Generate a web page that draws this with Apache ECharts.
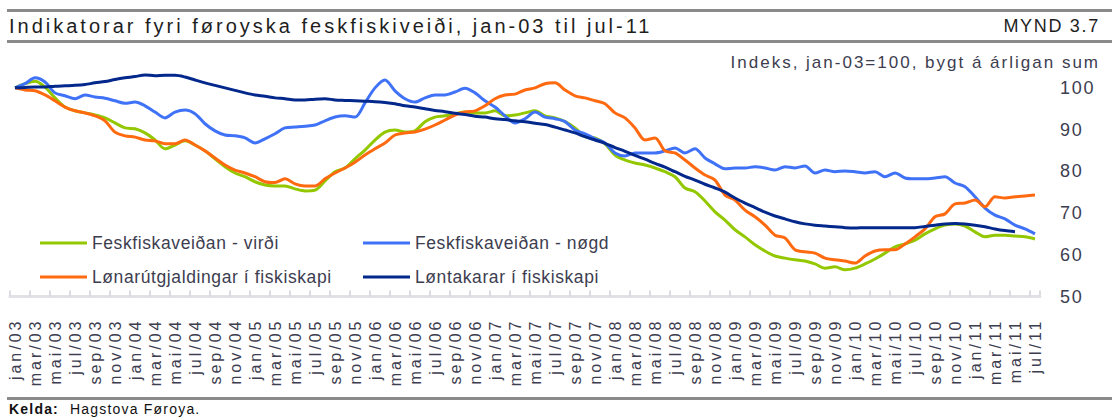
<!DOCTYPE html>
<html>
<head>
<meta charset="utf-8">
<title>Indikatorar fyri føroyska feskfiskiveiði</title>
<script src="https://cdn.jsdelivr.net/npm/echarts@6/dist/echarts.min.js"></script>
<style>
  html, body { margin: 0; padding: 0; background: #fff; }
  #chart { width: 1112px; height: 417px; }
  /* wide Excel-style tracking, picked by the font size echarts writes on each svg text */
  #chart text[style*="20px"] { letter-spacing: 3px; }
  #chart text[style*="18px"] { letter-spacing: 1.7px; }
  #chart text[style*="17px"] { letter-spacing: 2px; }
  #chart text[style*="16px"] { letter-spacing: 3px; }
  #chart text[style*="17.5px"] { letter-spacing: 0.6px; }
  #chart text[style*="14px"] { letter-spacing: 1.2px; }
</style>
</head>
<body>
<div id="chart"></div>
<script>
// month labels, jan/03 .. jul/11
const monthNames = ["jan", "feb", "mar", "apr", "mai", "jun", "jul", "aug", "sep", "okt", "nov", "des"];
const years = ["03", "04", "05", "06", "07", "08", "09", "10", "11"];
const months = [];
years.forEach(function(y, yi) {
  monthNames.forEach(function(m, mi) {
    if (yi == years.length - 1 && mi > 6) return;
    months.push(m + "/" + y);
  });
});

const yTicks = [50, 60, 70, 80, 90, 100];

// Feskfiskaveiðan - virði
const virdi = [
  100, 101, 101.6, 100.2, 97.6, 95.4, 94.5, 94, 93.5, 92.8,
  91.6, 90.4, 90.2, 89.2, 87.5, 85.4, 86.3, 87.3, 86.3, 84.9,
  83, 81.1, 79.6, 78.7, 77.5, 76.7, 76.5, 76.5, 75.8, 75.3,
  75.5, 77.7, 79.9, 80.8, 83, 85.1, 87.5, 89.4, 89.9, 89.4,
  89.7, 91.9, 93, 93.3, 93.8, 94.2, 94, 94, 94.5, 93.3,
  93.5, 94, 94.5, 93.3, 92.8, 91.9, 90.4, 88.3, 88, 86.6,
  83.9, 82.7, 82, 81.5, 80.8, 79.9, 78.7, 76, 75.1, 72.9,
  70.3, 68.3, 66, 64.3, 62.4, 60.9, 59.7, 59.2, 58.8, 58.5,
  57.8, 56.8, 57.1, 56.4, 56.8, 57.8, 59, 60.4, 61.9, 62.6,
  63.5, 65, 66.2, 67.1, 67.4, 66.9, 65.5, 64.3, 64.7, 64.7,
  64.5, 64.3, 63.8
];

// Feskfiskaveiðan - nøgd
const nogd = [
  100, 101, 102.4, 101.4, 98.8, 98.1, 97.4, 98.3, 97.8, 97.5,
  96.9, 96.3, 96.6, 95.7, 94.2, 92.8, 94.2, 94.7, 93.8, 91.4,
  89.7, 88.7, 88.5, 88, 86.8, 87.8, 89, 90.4, 90.6, 90.8,
  91.1, 92.1, 93, 93.3, 93, 96.4, 100, 101.9, 99.3, 97.4,
  96.6, 97.6, 98.3, 98.3, 99, 99.9, 98.8, 96.9, 95.4, 93.3,
  91.6, 92.6, 94.2, 93, 92.6, 91.9, 89.9, 89, 87.8, 86.8,
  84.4, 83.7, 84.4, 84.4, 84.4, 84.9, 85.6, 84.4, 85.4, 83.2,
  81.8, 80.6, 80.8, 80.8, 81.1, 80.8, 80.3, 81.1, 80.8, 81.3,
  79.6, 80.3, 79.9, 80.1, 79.9, 79.6, 79.9, 78.7, 79.6, 78.4,
  78.2, 78.2, 78.4, 78.7, 77.2, 76.3, 73.9, 71.2, 69.5, 68.6,
  67.1, 66.2, 65
];

// Lønarútgjaldingar í fiskiskapi
const lonir = [
  100, 99.5, 99.3, 98.3, 96.9, 95.4, 94.5, 94, 93.3, 92.1,
  89.4, 88.5, 88.2, 87.5, 87.3, 86.6, 86.6, 87.5, 86.3, 84.9,
  83.2, 81.5, 80.3, 79.6, 78.7, 77.5, 77.3, 78.2, 77, 76.5,
  76.5, 78.2, 79.6, 80.8, 82.2, 83.9, 85.4, 86.8, 88.7, 89.2,
  89.4, 90.1, 91.1, 92.3, 93.5, 94.2, 94.5, 95.7, 97.4, 98.3,
  98.5, 99.5, 100, 101, 101.2, 99.5, 98.1, 97.6, 96.9, 96.2,
  94, 92.8, 90.4, 87.5, 88, 84.9, 84.4, 82.7, 80.8, 79.1,
  77.9, 74.3, 73.1, 70.7, 69.1, 67.1, 64.7, 64, 61.2, 60.7,
  60.4, 59.2, 58.8, 58.5, 58, 59.7, 60.9, 61.2, 61.2, 62.6,
  64.3, 66.2, 69.1, 69.8, 72.2, 72.4, 73.1, 71.5, 73.9, 73.6,
  73.9, 74.1, 74.3
];

// Løntakarar í fiskiskapi (ends may/11)
const lontakarar = [
  100, 100.1, 100.2, 100.2, 100.4, 100.5, 100.6, 100.8, 101.2, 101.5,
  102, 102.4, 102.7, 103.1, 102.9, 103, 103, 102.6, 101.9, 101.2,
  100.6, 100, 99.4, 98.8, 98.3, 98, 97.6, 97.4, 97.1, 97.1,
  97.3, 97.4, 97.1, 97, 96.9, 96.8, 96.7, 96.5, 96.2, 95.7,
  95.4, 95, 94.6, 94.3, 93.9, 93.6, 93.2, 93, 92.6, 92.4,
  92.1, 91.9, 91.5, 91.2, 90.6, 89.9, 89.2, 88.3, 87.5, 86.7,
  85.7, 84.8, 83.8, 82.9, 81.9, 81, 79.9, 78.8, 77.9, 76.9,
  76, 75, 73.6, 72.4, 71.3, 70.2, 69.3, 68.6, 67.9, 67.4,
  67.1, 66.9, 66.7, 66.5, 66.4, 66.5, 66.5, 66.5, 66.5, 66.5,
  66.5, 66.8, 67.1, 67.4, 67.5, 67.4, 67.1, 66.7, 66.2, 65.8,
  65.5, null, null
];

const names = [
  "Feskfiskaveiðan - virði",
  "Feskfiskaveiðan - nøgd",
  "Lønarútgjaldingar í fiskiskapi",
  "Løntakarar í fiskiskapi"
];
const colors = ["#93c800", "#3f72f6", "#ff6a10", "#03288c"];

const font = "Liberation Sans, Arial, sans-serif";
const textColor = "#3d3d50";
const barColor = "#8a8a8a";

function lineSeries(name, data, color) {
  return {
    name: name,
    type: "line",
    data: data,
    symbol: "none",
    smooth: 0.3,
    connectNulls: false,
    lineStyle: { color: color, width: 3 },
    itemStyle: { color: color }
  };
}

function legendBlock(left, items) {
  return {
    orient: "vertical",
    left: left,
    top: 234,
    padding: 0,
    icon: "rect",
    itemWidth: 47,
    itemHeight: 3,
    itemGap: 16,
    data: items,
    textStyle: { fontSize: 17.5, color: textColor, fontFamily: font }
  };
}

const chart = echarts.init(document.getElementById("chart"), null, { renderer: "svg" });

chart.setOption({
  animation: false,
  backgroundColor: "#fff",
  textStyle: { fontFamily: font },
  grid: {
    left: 10,
    right: 72,
    top: 67,
    bottom: 120.5,
    containLabel: false,
    outerBoundsMode: "none"
  },
  legend: [
    legendBlock(40, [names[0], names[2]]),
    legendBlock(363, [names[1], names[3]])
  ],
  xAxis: {
    type: "category",
    data: months,
    boundaryGap: true,
    axisLine: { lineStyle: { color: "#e2e2e6", width: 3 } },
    axisTick: {
      show: true,
      inside: true,
      interval: 1,
      length: 6,
      lineStyle: { color: "#dcdce2", width: 2 }
    },
    axisLabel: {
      interval: 1,
      rotate: 90,
      margin: 22,
      fontSize: 16,
      fontFamily: font,
      color: textColor
    },
    splitLine: { show: false }
  },
  yAxis: {
    type: "value",
    position: "right",
    min: 50,
    max: 105,
    interval: 10,
    axisLine: { show: false },
    axisTick: { show: false },
    splitLine: { show: false },
    axisLabel: {
      margin: 20,
      fontSize: 18,
      fontFamily: font,
      color: textColor,
      formatter: function(v) {
        return yTicks.indexOf(v) >= 0 ? String(v) : "";
      }
    }
  },
  series: [
    lineSeries(names[0], virdi, colors[0]),
    lineSeries(names[1], nogd, colors[1]),
    lineSeries(names[2], lonir, colors[2]),
    lineSeries(names[3], lontakarar, colors[3])
  ],
  graphic: [
    // grey rules round the heading and above the source
    { type: "rect", silent: true, shape: { x: 7, y: 9, width: 1105, height: 3 }, style: { fill: barColor } },
    { type: "rect", silent: true, shape: { x: 7, y: 40, width: 1105, height: 3 }, style: { fill: barColor } },
    { type: "rect", silent: true, shape: { x: 7, y: 397, width: 1105, height: 3 }, style: { fill: barColor } },
    {
      type: "text", silent: true, x: 9, y: 26,
      style: {
        text: "Indikatorar fyri føroyska feskfiskiveiði, jan-03 til jul-11",
        fontSize: 20, fontFamily: font, fill: "#1e1e1e",
        textAlign: "left", textVerticalAlign: "middle"
      }
    },
    {
      type: "text", silent: true, x: 1100, y: 26,
      style: {
        text: "MYND 3.7",
        fontSize: 18, fontFamily: font, fill: "#1e1e1e",
        textAlign: "right", textVerticalAlign: "middle"
      }
    },
    {
      type: "text", silent: true, x: 1100, y: 62,
      style: {
        text: "Indeks, jan-03=100, bygt á árligan sum",
        fontSize: 17, fontFamily: font, fill: textColor,
        textAlign: "right", textVerticalAlign: "middle"
      }
    },
    {
      type: "text", silent: true, x: 9, y: 409,
      style: {
        text: "Kelda:",
        fontSize: 14, fontFamily: font, fontWeight: "bold", fill: "#111",
        textAlign: "left", textVerticalAlign: "middle"
      }
    },
    {
      type: "text", silent: true, x: 70, y: 409,
      style: {
        text: "Hagstova Føroya.",
        fontSize: 14, fontFamily: font, fill: "#111",
        textAlign: "left", textVerticalAlign: "middle"
      }
    }
  ]
});
</script>
</body>
</html>
